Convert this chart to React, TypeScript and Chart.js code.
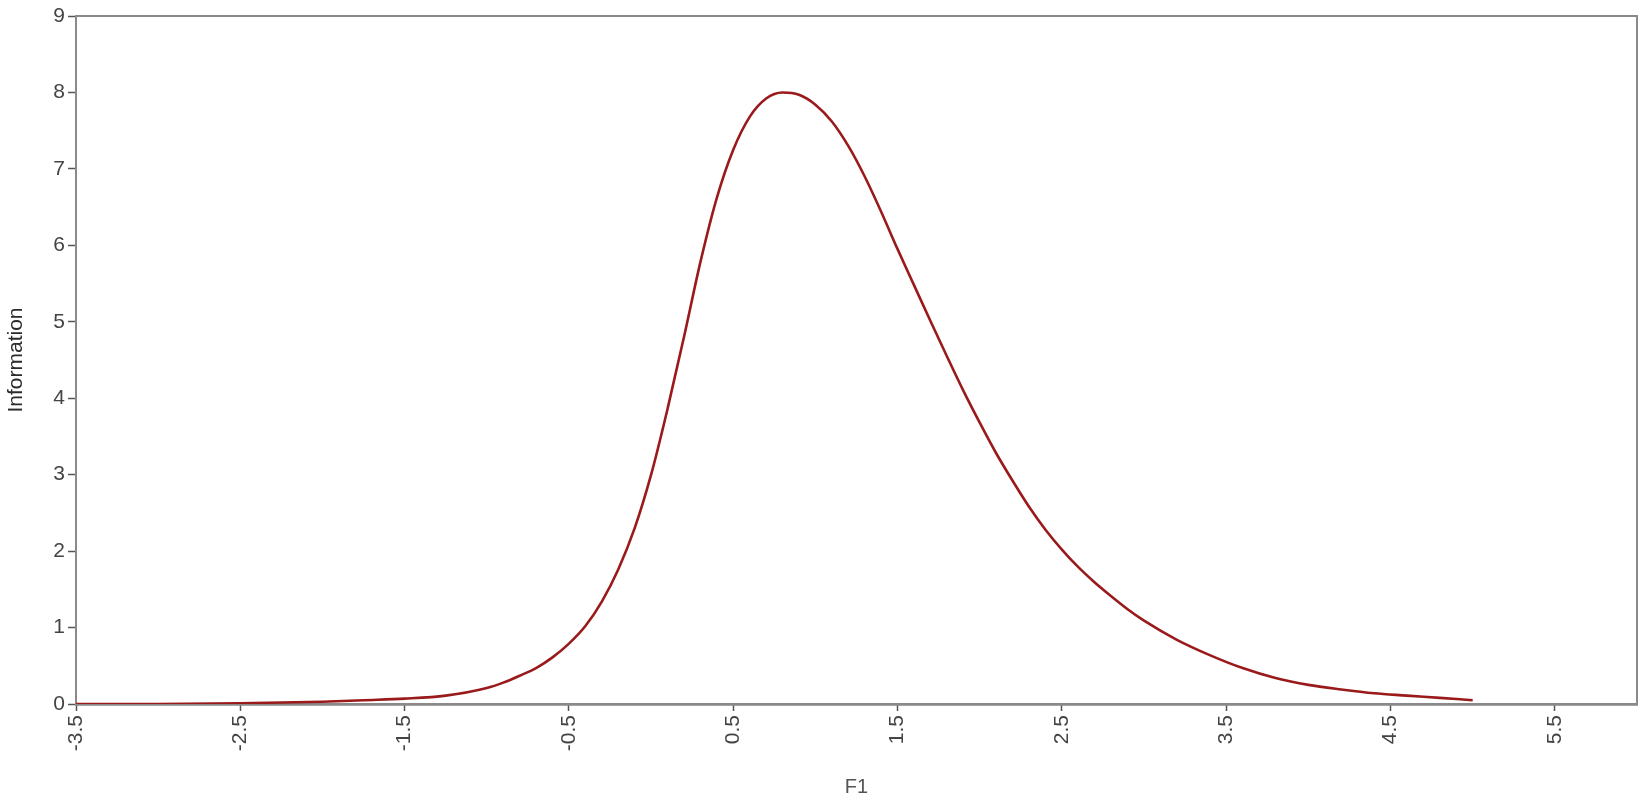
import React, { useEffect, useRef } from "react";
import { Chart, registerables } from "chart.js";

Chart.register(...registerables);

// Theta values (F1)
const f1Values = [
  -3.5, -3.0, -2.5, -2.0, -1.75, -1.5, -1.25, -1.0, -0.9, -0.8, -0.7, -0.6, -0.5,
  -0.4, -0.3, -0.2, -0.1, 0.0, 0.1, 0.2, 0.3, 0.4, 0.5, 0.6, 0.7, 0.8, 0.9, 1.0,
  1.1, 1.2, 1.3, 1.4, 1.5, 1.6, 1.7, 1.8, 1.9, 2.0, 2.1, 2.2, 2.3, 2.4, 2.5, 2.6,
  2.7, 2.8, 2.9, 3.0, 3.2, 3.4, 3.6, 3.8, 4.0, 4.2, 4.4, 4.6, 4.8, 5.0,
];

// Information values
const informationValues = [
  0.0, 0.0, 0.01, 0.03, 0.05, 0.07, 0.11, 0.21, 0.28, 0.37, 0.47, 0.61, 0.79,
  1.02, 1.34, 1.76, 2.3, 3.0, 3.86, 4.8, 5.78, 6.62, 7.25, 7.68, 7.92, 8.0, 7.97, 7.84,
  7.62, 7.3, 6.9, 6.44, 5.95, 5.48, 5.01, 4.55, 4.1, 3.68, 3.28, 2.92, 2.58, 2.28, 2.02, 1.79,
  1.59, 1.41, 1.24, 1.09, 0.84, 0.64, 0.47, 0.34, 0.25, 0.19, 0.14, 0.11, 0.08, 0.05,
];

const xTickValues = [-3.5, -2.5, -1.5, -0.5, 0.5, 1.5, 2.5, 3.5, 4.5, 5.5];
const yTickValues = [0, 1, 2, 3, 4, 5, 6, 7, 8, 9];

const xAxisTitle = "F1";
const yAxisTitle = "Information";

const FONT = "'Liberation Sans', Arial, sans-serif";

const framePlugin = {
  id: "frame",
  beforeDatasetsDraw(chart: any) {
    const { ctx, chartArea } = chart;
    ctx.save();
    ctx.strokeStyle = "#8a8a8a";
    ctx.lineWidth = 2;
    ctx.strokeRect(chartArea.left, chartArea.top, chartArea.right - chartArea.left, chartArea.bottom - chartArea.top);
    ctx.restore();
  },
};

export default function App() {
  const ref = useRef<HTMLCanvasElement | null>(null);

  useEffect(() => {
    if (!ref.current) return;
    const points = f1Values.map((x, i) => ({ x, y: informationValues[i] }));
    const chart = new Chart(ref.current, {
      type: "line",
      data: {
        datasets: [
          {
            label: "Information",
            data: points,
            borderColor: "#9a1a1c",
            borderWidth: 2.6,
            pointRadius: 0,
            fill: false,
            cubicInterpolationMode: "monotone",
          },
        ],
      },
      options: {
        animation: false,
        responsive: false,
        maintainAspectRatio: false,
        layout: { padding: { top: 16, right: 13, bottom: 0, left: 0 } },
        plugins: {
          legend: { display: false },
          tooltip: { enabled: false },
        },
        scales: {
          x: {
            type: "linear",
            min: -3.5,
            max: 6,
            afterBuildTicks: (scale: any) => {
              scale.ticks = xTickValues.map((v) => ({ value: v }));
            },
            afterFit: (scale: any) => {
              scale.height = 107;
            },
            ticks: {
              autoSkip: false,
              minRotation: 90,
              maxRotation: 90,
              padding: 4,
              color: "#444",
              font: { family: FONT, size: 21 },
              callback: (v: any) => Number(v).toFixed(1),
            },
            grid: {
              display: true,
              drawOnChartArea: false,
              drawTicks: true,
              tickLength: 7,
              tickColor: "#555",
              tickWidth: 1.5,
            },
            border: { display: true, color: "#4a4a4a", width: 2.5 },
            title: {
              display: true,
              text: xAxisTitle,
              color: "#555",
              font: { family: FONT, size: 20 },
              padding: { top: 0, bottom: 12 },
            },
          },
          y: {
            type: "linear",
            min: 0,
            max: 9,
            afterBuildTicks: (scale: any) => {
              scale.ticks = yTickValues.map((v) => ({ value: v }));
            },
            afterFit: (scale: any) => {
              scale.width = 76;
            },
            ticks: {
              autoSkip: false,
              padding: 3,
              color: "#444",
              font: { family: FONT, size: 21 },
            },
            grid: {
              display: true,
              drawOnChartArea: false,
              drawTicks: true,
              tickLength: 8,
              tickColor: "#555",
              tickWidth: 1.5,
            },
            border: { display: true, color: "#777", width: 2 },
            title: {
              display: true,
              text: yAxisTitle,
              color: "#2a2a2a",
              font: { family: FONT, size: 21 },
              padding: { top: 4, bottom: 0 },
            },
          },
        },
      },
      plugins: [framePlugin],
    });
    return () => chart.destroy();
  }, []);

  return (
    <div style={{ position: "fixed", left: 0, top: 0, width: 1650, height: 811, background: "#fff" }}>
      <canvas ref={ref} width={1650} height={811} style={{ display: "block" }} />
    </div>
  );
}
